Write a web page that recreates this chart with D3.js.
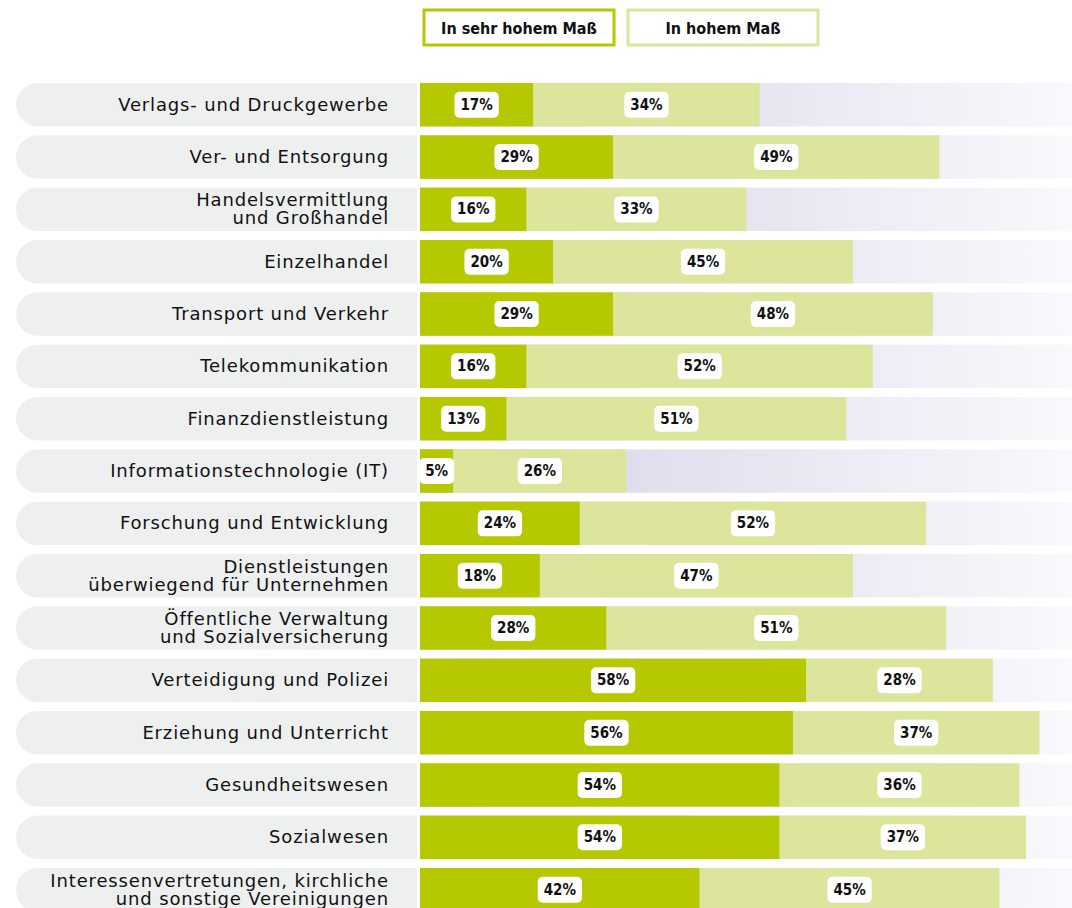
<!DOCTYPE html>
<html>
<head>
<meta charset="utf-8">
<script src="https://cdn.jsdelivr.net/npm/d3@7"></script>
<style>
body { margin: 0; background: #fff; }
svg { display: block; }
.cat { font-family: "DejaVu Sans", sans-serif; font-size: 18px; letter-spacing: 0.85px; fill: #111; }
.val { font-family: "DejaVu Sans Condensed", "DejaVu Sans", sans-serif; font-size: 15px; font-weight: bold; fill: #111; }
.leg { font-family: "DejaVu Sans Condensed", "DejaVu Sans", sans-serif; font-size: 16px; font-weight: bold; fill: #111; }
</style>
</head>
<body>
<svg width="1072" height="908"></svg>
<script>
// branches (two-line labels use "|")
var categories = [
    "Verlags- und Druckgewerbe",
    "Ver- und Entsorgung",
    "Handelsvermittlung|und Großhandel",
    "Einzelhandel",
    "Transport und Verkehr",
    "Telekommunikation",
    "Finanzdienstleistung",
    "Informationstechnologie (IT)",
    "Forschung und Entwicklung",
    "Dienstleistungen|überwiegend für Unternehmen",
    "Öffentliche Verwaltung|und Sozialversicherung",
    "Verteidigung und Polizei",
    "Erziehung und Unterricht",
    "Gesundheitswesen",
    "Sozialwesen",
    "Interessenvertretungen, kirchliche|und sonstige Vereinigungen"
];
var sehrHoch = [17, 29, 16, 20, 29, 16, 13, 5, 24, 18, 28, 58, 56, 54, 54, 42];
var hoch = [34, 49, 33, 45, 48, 52, 51, 26, 52, 47, 51, 28, 37, 36, 37, 45];
var seriesNames = ["In sehr hohem Maß", "In hohem Maß"];
var seriesColors = ["#b5c800", "#dce59b"];

var svg = d3.select("svg");

var step = 52.33, pad = 0.17;
var x = d3.scaleLinear().domain([0, 100]).range([420, 1086]);
var y = d3.scaleBand().domain(d3.range(categories.length))
    .range([83, 83 + step * (categories.length - pad)]).paddingInner(pad).paddingOuter(0);

var defs = svg.append("defs");
var grad = defs.append("linearGradient").attr("id", "bg")
    .attr("gradientUnits", "userSpaceOnUse")
    .attr("x1", x(0)).attr("x2", x(100)).attr("y1", 0).attr("y2", 0);
grad.append("stop").attr("offset", "0%").attr("stop-color", "#d4d0e6");
grad.append("stop").attr("offset", "100%").attr("stop-color", "#faf9fc");

// legend
var legW = 190, legH = 35;
var leg = svg.selectAll("g.legend").data(seriesNames).enter().append("g")
    .attr("class", "legend")
    .attr("transform", function(d, i) { return "translate(" + (424 + i * 204) + ",10)"; });
leg.append("rect")
    .attr("width", legW).attr("height", legH)
    .attr("fill", "#fff")
    .attr("stroke", function(d, i) { return seriesColors[i]; })
    .attr("stroke-width", 3);
leg.append("text")
    .attr("class", "leg")
    .attr("x", legW / 2).attr("y", legH / 2 + 6)
    .attr("text-anchor", "middle")
    .text(function(d) { return d; });

var rows = svg.selectAll("g.row").data(categories).enter().append("g")
    .attr("class", "row")
    .attr("transform", function(d, i) { return "translate(0," + y(i) + ")"; });

var bh = y.bandwidth();

// label pill
rows.append("path")
    .attr("fill", "#eeefef")
    .attr("d", function() {
        var r = bh / 2, l = 16, rt = 417;
        return "M" + (l + r) + ",0H" + rt + "V" + bh + "H" + (l + r) +
            "A" + r + "," + r + " 0 0 1 " + (l + r) + ",0Z";
    });

rows.each(function(d) {
    var lines = d.split("|");
    var t = d3.select(this).append("text").attr("class", "cat")
        .attr("text-anchor", "end");
    var lh = 18;
    var y0 = bh / 2 + 6 - (lines.length - 1) * lh / 2;
    lines.forEach(function(l, k) {
        t.append("tspan").attr("x", 389).attr("y", y0 + k * lh).text(l);
    });
});

// background
rows.append("rect")
    .attr("x", x(0)).attr("width", x(100) - x(0))
    .attr("height", bh).attr("fill", "url(#bg)");

// bars
rows.append("rect")
    .attr("x", x(0))
    .attr("width", function(d, i) { return x(sehrHoch[i]) - x(0); })
    .attr("height", bh).attr("fill", seriesColors[0]);
rows.append("rect")
    .attr("x", function(d, i) { return x(sehrHoch[i]); })
    .attr("width", function(d, i) { return x(sehrHoch[i] + hoch[i]) - x(sehrHoch[i]); })
    .attr("height", bh).attr("fill", seriesColors[1]);

function badge(sel, cx, v) {
    var g = sel.append("g").attr("transform", "translate(" + cx + "," + (bh / 2) + ")");
    var txt = g.append("text").attr("class", "val")
        .attr("text-anchor", "middle").attr("y", 5).text(v + "%");
    var w = txt.node().getComputedTextLength() + 12;
    g.insert("rect", "text")
        .attr("x", -w / 2).attr("y", -13).attr("width", w).attr("height", 26)
        .attr("rx", 5).attr("fill", "#fff");
}

rows.each(function(d, i) {
    var g = d3.select(this);
    badge(g, (x(0) + x(sehrHoch[i])) / 2, sehrHoch[i]);
    badge(g, (x(sehrHoch[i]) + x(sehrHoch[i] + hoch[i])) / 2, hoch[i]);
});
</script>
</body>
</html>
